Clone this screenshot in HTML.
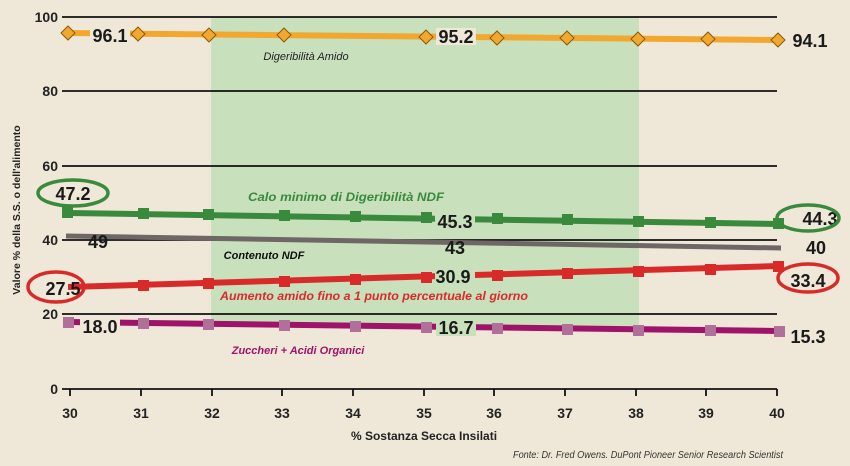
<!DOCTYPE html><html><head><meta charset="utf-8"><style>body{margin:0;background:#efe8d8}svg{display:block}text{font-family:"Liberation Sans",sans-serif}</style></head><body>
<svg width="850" height="466" viewBox="0 0 850 466">
<rect width="850" height="466" fill="#efe8d8"/>
<rect x="211" y="17" width="428" height="309" fill="#c8e0bc"/>
<g stroke="#111" stroke-width="1.8">
<line x1="62" y1="17" x2="777" y2="17"/><line x1="62" y1="91" x2="777" y2="91"/><line x1="62" y1="166" x2="777" y2="166"/><line x1="62" y1="240" x2="777" y2="240"/><line x1="62" y1="314" x2="777" y2="314"/><line x1="62" y1="389" x2="777" y2="389"/>
</g>
<g stroke="#111" stroke-width="1.8">
<line x1="70" y1="389" x2="70" y2="396"/><line x1="141" y1="389" x2="141" y2="396"/><line x1="212" y1="389" x2="212" y2="396"/><line x1="282" y1="389" x2="282" y2="396"/><line x1="353" y1="389" x2="353" y2="396"/><line x1="424" y1="389" x2="424" y2="396"/><line x1="494" y1="389" x2="494" y2="396"/><line x1="565" y1="389" x2="565" y2="396"/><line x1="636" y1="389" x2="636" y2="396"/><line x1="706" y1="389" x2="706" y2="396"/><line x1="777" y1="389" x2="777" y2="396"/>
</g>
<g font-size="14" font-weight="bold" fill="#222" text-anchor="middle">
<text x="70" y="418">30</text><text x="141" y="418">31</text><text x="212" y="418">32</text><text x="282" y="418">33</text><text x="353" y="418">34</text><text x="424" y="418">35</text><text x="494" y="418">36</text><text x="565" y="418">37</text><text x="636" y="418">38</text><text x="706" y="418">39</text><text x="777" y="418">40</text>
</g>
<g font-size="14" font-weight="bold" fill="#222" text-anchor="end">
<text x="58" y="22">100</text><text x="58" y="96">80</text><text x="58" y="171">60</text><text x="58" y="245">40</text><text x="58" y="319">20</text><text x="58" y="394">0</text>
</g>
<text x="424" y="440" font-size="12" font-weight="bold" fill="#222" text-anchor="middle">% Sostanza Secca Insilati</text>
<text transform="translate(20,210) rotate(-90)" font-size="10.5" font-weight="bold" fill="#222" text-anchor="middle">Valore % della S.S. o dell'alimento</text>
<text x="783" y="458" font-size="10" font-style="italic" fill="#333" text-anchor="end" textLength="270" lengthAdjust="spacingAndGlyphs">Fonte: Dr. Fred Owens.   DuPont Pioneer Senior Research Scientist</text>
<polyline points="68,33 778,40" fill="none" stroke="#f2a72e" stroke-width="6"/>
<g fill="#f2a72e" stroke="#8a5a00" stroke-width="1">
<path d="M68,26 l7,7 -7,7 -7,-7z"/><path d="M138,27 l7,7 -7,7 -7,-7z"/><path d="M209,28 l7,7 -7,7 -7,-7z"/><path d="M284,28 l7,7 -7,7 -7,-7z"/><path d="M426,30 l7,7 -7,7 -7,-7z"/><path d="M497,31 l7,7 -7,7 -7,-7z"/><path d="M567,31 l7,7 -7,7 -7,-7z"/><path d="M638,32 l7,7 -7,7 -7,-7z"/><path d="M708,32 l7,7 -7,7 -7,-7z"/><path d="M778,33 l7,7 -7,7 -7,-7z"/>
</g>
<polyline points="68,213 778,224" fill="none" stroke="#3a8a3e" stroke-width="6"/>
<g fill="#3a8a3e"><rect x="62" y="207" width="11" height="11"/><rect x="138" y="208" width="11" height="11"/><rect x="203" y="209" width="11" height="11"/><rect x="279" y="210" width="11" height="11"/><rect x="350" y="211" width="11" height="11"/><rect x="421" y="212" width="11" height="11"/><rect x="492" y="213" width="11" height="11"/><rect x="562" y="214" width="11" height="11"/><rect x="633" y="216" width="11" height="11"/><rect x="705" y="217" width="11" height="11"/><rect x="773" y="218" width="11" height="11"/></g>
<polyline points="66,236 781,248" fill="none" stroke="#6e6766" stroke-width="5"/>
<polyline points="68,287 778,266" fill="none" stroke="#d92a2a" stroke-width="6"/>
<g fill="#d92a2a"><rect x="138" y="280" width="11" height="11"/><rect x="203" y="278" width="11" height="11"/><rect x="279" y="276" width="11" height="11"/><rect x="350" y="274" width="11" height="11"/><rect x="421" y="272" width="11" height="11"/><rect x="492" y="270" width="11" height="11"/><rect x="562" y="268" width="11" height="11"/><rect x="633" y="266" width="11" height="11"/><rect x="705" y="264" width="11" height="11"/><rect x="773" y="261" width="11" height="11"/></g>
<polyline points="68,322 778,331" fill="none" stroke="#a0136a" stroke-width="6"/>
<g fill="#b0709a"><rect x="63" y="317" width="11" height="11"/><rect x="138" y="318" width="11" height="11"/><rect x="203" y="319" width="11" height="11"/><rect x="279" y="320" width="11" height="11"/><rect x="350" y="321" width="11" height="11"/><rect x="421" y="322" width="11" height="11"/><rect x="492" y="323" width="11" height="11"/><rect x="562" y="324" width="11" height="11"/><rect x="633" y="325" width="11" height="11"/><rect x="705" y="325" width="11" height="11"/><rect x="774" y="326" width="11" height="11"/></g>
<g fill="#efe8d8"><rect x="90" y="27" width="40" height="17"/><rect x="436" y="28" width="40" height="17"/><rect x="80" y="317" width="40" height="17"/></g>
<g fill="#c8e0bc"><rect x="435" y="213" width="40" height="16"/><rect x="435" y="268" width="40" height="16"/><rect x="436" y="320" width="40" height="16"/></g>
<g font-size="18" font-weight="bold" fill="#1a1a1a" text-anchor="middle">
<text x="110" y="42">96.1</text>
<text x="456" y="43">95.2</text>
<text x="810" y="47">94.1</text>
<text x="73" y="200">47.2</text>
<text x="455" y="228">45.3</text>
<text x="820" y="225">44.3</text>
<text x="98" y="248">49</text>
<text x="455" y="254">43</text>
<text x="816" y="254">40</text>
<text x="63" y="295">27.5</text>
<text x="453" y="283">30.9</text>
<text x="808" y="287">33.4</text>
<text x="100" y="333">18.0</text>
<text x="456" y="334">16.7</text>
<text x="808" y="343">15.3</text>
</g>
<g fill="none" stroke-width="3.5">
<ellipse cx="73" cy="193" rx="35" ry="13" stroke="#3a8a3e"/>
<ellipse cx="808" cy="218" rx="31" ry="13" stroke="#3a8a3e"/>
<ellipse cx="56" cy="287" rx="28" ry="15" stroke="#d92a2a"/>
<ellipse cx="808" cy="278" rx="30" ry="14" stroke="#d92a2a"/>
</g>
<g font-size="12" font-style="italic" font-weight="bold" text-anchor="middle">
<text x="306" y="60" fill="#222" font-weight="normal" font-size="11">Digeribilità Amido</text>
<text x="346" y="201" fill="#3a8a3e" textLength="196" lengthAdjust="spacingAndGlyphs">Calo minimo di Digeribilità NDF</text>
<text x="264" y="259" fill="#111" font-size="11">Contenuto NDF</text>
<text x="374" y="300" fill="#d92a2a" textLength="308" lengthAdjust="spacingAndGlyphs">Aumento amido fino a 1 punto percentuale al giorno</text>
<text x="298" y="354" fill="#a0136a" font-size="11">Zuccheri + Acidi Organici</text>
</g>
</svg></body></html>
